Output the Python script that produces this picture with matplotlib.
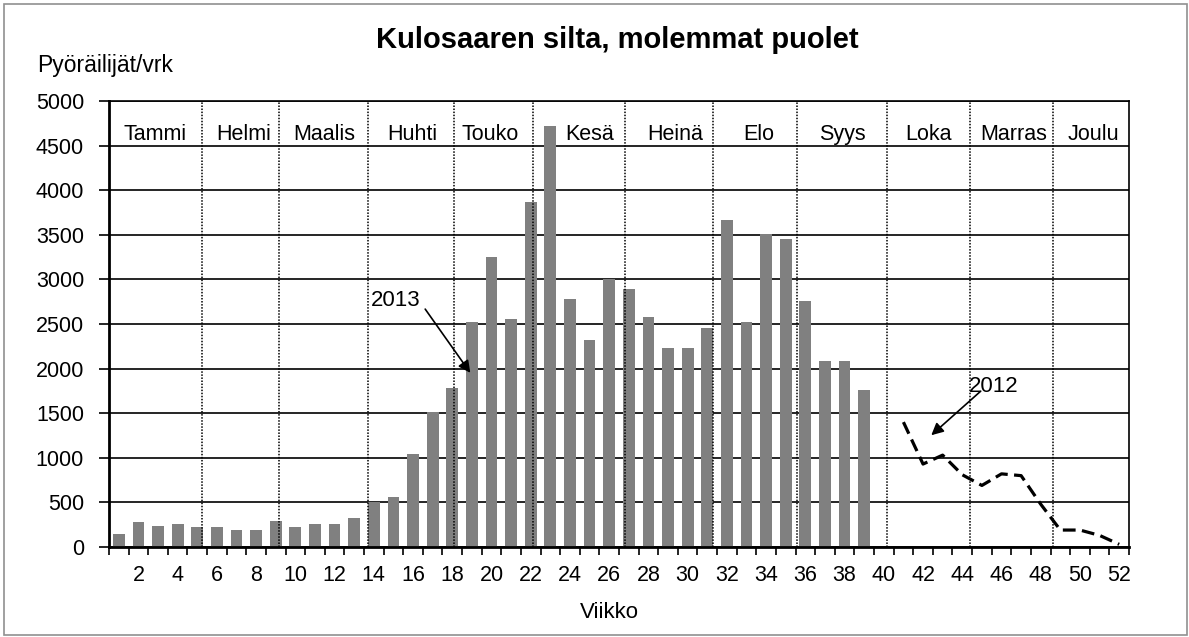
import numpy as np
import matplotlib
matplotlib.use('Agg')
import matplotlib.pyplot as plt
from matplotlib.patches import Rectangle

plt.rcParams['font.family'] = ['Liberation Sans', 'DejaVu Sans']

# viikot 1-39 (2013), pyöräilijät / vrk
weeks_2013 = list(range(1, 40))
riders_2013 = [150, 280, 240, 255, 220, 220, 195, 195, 290, 220, 255, 255, 325,
               505, 565, 1040, 1510, 1780, 2525, 3250, 2555, 3870, 4720, 2780,
               2320, 3000, 2890, 2580, 2235, 2235, 2450, 3665, 2520, 3505, 3450,
               2760, 2085, 2085, 1760]

# viikot 41-52 (2012)
weeks_2012 = list(range(41, 53))
riders_2012 = [1400, 930, 1030, 810, 690, 820, 800, 480, 190, 190, 130, 30]

months = ['Tammi', 'Helmi', 'Maalis', 'Huhti', 'Touko', 'Kesä', 'Heinä',
          'Elo', 'Syys', 'Loka', 'Marras', 'Joulu']

# layout: month label centres and divider positions (in week units)
month_x = [2.86, 7.38, 11.45, 15.94, 19.91, 24.98, 29.36, 33.63, 37.91, 42.29, 46.62, 50.69]
divider_x = [5.23, 9.17, 13.7, 18.07, 22.1, 26.79, 31.28, 35.55, 40.14, 44.38, 48.65]

W, H = 1189, 637
fig = plt.figure(figsize=(W / 100, H / 100), dpi=100)
ax = fig.add_axes([109 / W, 1 - 547 / H, (1129 - 109) / W, (547 - 101) / H])

# outer frame
fig.patches.append(Rectangle((4 / W, 2 / H), (W - 6) / W, (H - 6) / H, transform=fig.transFigure,
                             fill=False, edgecolor='#909090', lw=1.2))

ax.bar(weeks_2013, riders_2013, width=0.6, color='#808080', zorder=2)
ax.plot(weeks_2012, riders_2012, color='black', lw=2.3, ls=(0, (4, 2)), zorder=4)

for x in divider_x:
    ax.axvline(x, color='black', lw=1.1, ls=(0, (1, 1)), zorder=3)

for name, x in zip(months, month_x):
    ax.text(x, 4560, name, ha='center', va='baseline', fontsize=15.5, zorder=5)

ax.set_xlim(0.5, 52.5)
ax.set_ylim(0, 5000)
ax.set_yticks(np.arange(0, 5001, 500))
ax.set_xticks(np.arange(2, 53, 2))
ax.set_xticks(np.arange(0.5, 53, 1), minor=True)
ax.tick_params(axis='x', which='major', length=0, pad=13, labelsize=15.5)
ax.tick_params(axis='x', which='minor', length=6, width=1.2, direction='out')
ax.tick_params(axis='y', length=7, width=1.2, direction='out', pad=11, labelsize=15.5)
ax.yaxis.grid(True, color='black', lw=1.2, zorder=1)
ax.set_axisbelow(True)
for s in ax.spines.values():
    s.set_linewidth(1.2)
ax.spines['left'].set_linewidth(2)
ax.spines['bottom'].set_linewidth(2)

# annotations
ax.text(15.14, 2768, '2013', ha='center', va='center', fontsize=16, zorder=6)
ax.annotate('', xy=(18.92, 1952), xytext=(16.62, 2667),
            arrowprops=dict(arrowstyle='-|>', color='black', lw=1.2, mutation_scale=18,
                            shrinkA=0, shrinkB=0), zorder=6)
ax.text(45.58, 1803, '2012', ha='center', va='center', fontsize=16, zorder=6)
ax.annotate('', xy=(42.42, 1253), xytext=(44.94, 1747),
            arrowprops=dict(arrowstyle='-|>', color='black', lw=1.2, mutation_scale=18,
                            shrinkA=0, shrinkB=0), zorder=6)

fig.text(617 / W, 1 - 48 / H, 'Kulosaaren silta, molemmat puolet', ha='center', va='baseline',
         fontsize=21, fontweight='bold')
fig.text(37 / W, 1 - 72 / H, 'Pyöräilijät/vrk', ha='left', va='baseline', fontsize=16.5)
fig.text(609 / W, 1 - 618 / H, 'Viikko', ha='center', va='baseline', fontsize=16)

fig.savefig('out.png', dpi=100)
